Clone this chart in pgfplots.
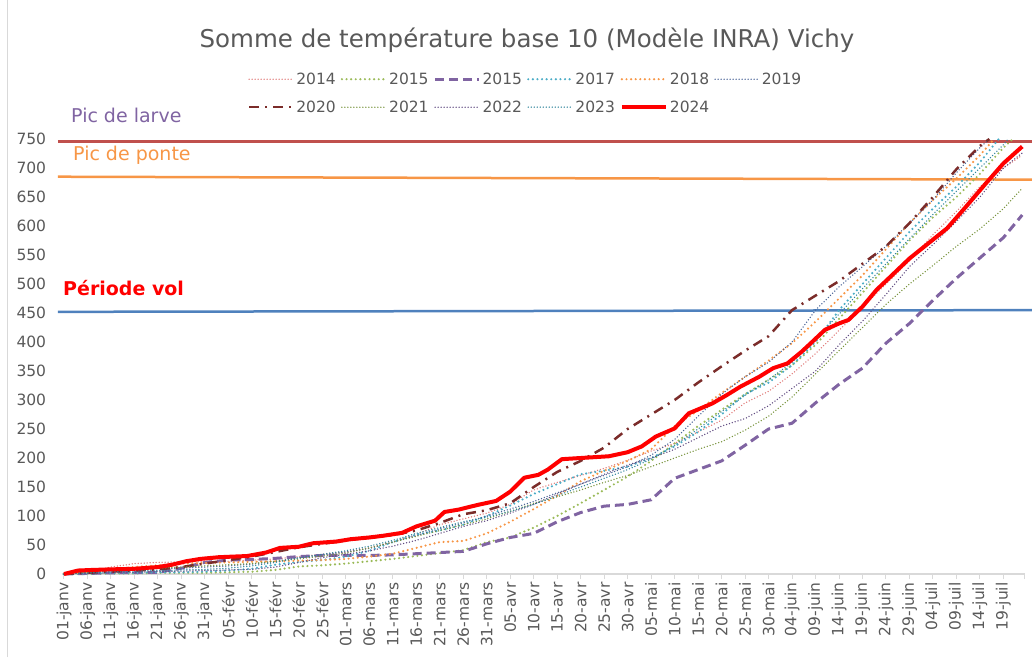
\documentclass[border=0pt]{standalone}
\usepackage{fontspec}
\setmainfont{DejaVu Sans}
\usepackage{pgfplots}
\pgfplotsset{compat=1.18}
\definecolor{txt}{HTML}{595959}
\definecolor{c14}{HTML}{E07A78}
\definecolor{c15}{HTML}{9BBB59}
\definecolor{c16}{HTML}{8064A2}
\definecolor{c17}{HTML}{4BACC6}
\definecolor{c18}{HTML}{F79646}
\definecolor{c19}{HTML}{4A6497}
\definecolor{c20}{HTML}{7B2C2A}
\definecolor{c21}{HTML}{77933C}
\definecolor{c22}{HTML}{5F4A80}
\definecolor{c23}{HTML}{31859C}
\definecolor{hlred}{HTML}{C0504D}
\definecolor{hlor}{HTML}{F79646}
\definecolor{hlbl}{HTML}{4F81BD}
\definecolor{axg}{HTML}{D9D9D9}
\begin{document}
\begin{tikzpicture}[x=1pt,y=1pt]
\useasboundingbox (0,0) rectangle (1032,657);
\draw[axg, line width=1pt] (7,0) -- (7,657);
\node[text=txt, font=\fontsize{24.5}{28}\selectfont] at (527,617) {Somme de température base 10 (Modèle INRA) Vichy};
\begin{axis}[
  at={(61.65pt,83pt)}, anchor=south west,
  scale only axis, width=962.9pt, height=435pt,
  xmin=-0.5, xmax=204.5, ymin=0, ymax=750,
  clip=false,
  axis x line*=bottom, axis y line*=left,
  x axis line style={draw=axg, line width=1.3pt, -},
  y axis line style={draw=none},
  ytick={0,50,...,750},
  ytick style={draw=none},
  xtick style={draw=axg, line width=1pt},
  tick align=outside, major tick length=5pt,
  /pgf/number format/assume math mode=true,
  yticklabel style={font=\fontsize{15.5}{17}\selectfont, text=txt, xshift=-7pt},
  xtick={0,5,...,200},
  extra x ticks={204.5}, extra x tick labels={},
  xticklabels={01-janv,06-janv,11-janv,16-janv,21-janv,26-janv,31-janv,05-févr,10-févr,15-févr,20-févr,25-févr,01-mars,06-mars,11-mars,16-mars,21-mars,26-mars,31-mars,05-avr,10-avr,15-avr,20-avr,25-avr,30-avr,05-mai,10-mai,15-mai,20-mai,25-mai,30-mai,04-juin,09-juin,14-juin,19-juin,24-juin,29-juin,04-juil,09-juil,14-juil,19-juil},
  xticklabel style={rotate=90, anchor=east, font=\fontsize{15.5}{17}\selectfont, text=txt},
  legend columns=6,
  legend cell align=left,
  legend style={at={(0.190,1.162)}, anchor=north west, draw=none, fill=none,
    font=\fontsize{15.5}{17}\selectfont, text=txt, row sep=11pt,
    nodes={inner sep=2pt},
    /tikz/every even column/.append style={column sep=3pt}},
  legend image code/.code={\draw[#1] (0pt,0pt) -- (44pt,0pt);},
]
% reference lines
\addplot[forget plot, hlred, line width=2.5pt] coordinates {(-1.3,746) (206.1,746)};
\addplot[forget plot, hlor, line width=2.5pt] coordinates {(-1.3,685) (206.1,680)};
\addplot[forget plot, hlbl, line width=2.5pt] coordinates {(-1.3,452) (206.1,455)};

\addplot[c14, line width=1.5pt, dash pattern=on 0pt off 3pt, line cap=round] coordinates {
(0,0)(5,4)(10,12)(15,18)(20,20)(25,21)(30,21)(35,22)(40,24)(45,26)(50,30)(55,34)(60,38)(65,45)(70,55)(75,68)(80,85)(85,95)(90,105)(95,120)(100,145)(105,158)(110,170)(115,182)(120,196)(125,212)(130,225)(135,245)(140,265)(145,295)(150,315)(155,345)(160,380)(165,420)(170,460)(175,500)(180,540)(185,585)(190,625)(195,668)(200,700)(204,722)};
\addlegendentry{2014}
\addplot[c15, line width=2.4pt, dash pattern=on 0pt off 4.6pt, line cap=round] coordinates {
(0,0)(5,0)(10,1)(15,1)(20,2)(25,2)(30,2)(35,3)(40,4)(45,7)(50,13)(55,15)(60,18)(65,22)(70,26)(75,31)(80,36)(85,41)(90,55)(95,63)(100,80)(105,100)(110,122)(115,145)(120,168)(125,195)(130,225)(135,255)(140,283)(145,310)(150,335)(155,360)(160,395)(165,440)(170,485)(175,530)(180,575)(185,615)(190,650)(195,690)(200,735)(202,750)};
\addlegendentry{2015}
\addplot[c16, line width=3pt, dash pattern=on 9pt off 5pt] coordinates {
(0,0)(10,2)(20,3)(25,10)(30,20)(35,24)(40,25)(45,27)(50,30)(55,32)(60,32)(65,32)(70,33)(75,35)(80,37)(85,39)(90,52)(95,63)(100,70)(105,90)(110,106)(115,117)(120,120)(125,128)(130,165)(135,180)(140,195)(145,222)(150,250)(155,260)(160,295)(165,327)(170,355)(175,398)(180,432)(185,472)(190,510)(195,545)(200,580)(204,619)};
\addlegendentry{2015}
\addplot[c17, line width=2.4pt, dash pattern=on 0pt off 4.6pt, line cap=round] coordinates {
(0,0)(5,1)(10,2)(15,2)(20,3)(25,3)(30,4)(35,6)(40,9)(45,16)(50,21)(55,24)(60,30)(65,40)(70,55)(75,68)(80,75)(85,85)(90,100)(95,118)(100,138)(105,155)(110,172)(115,178)(120,185)(125,200)(130,220)(135,245)(140,275)(145,310)(150,330)(155,360)(160,400)(165,455)(170,500)(175,545)(180,590)(185,630)(190,668)(195,710)(199,750)};
\addlegendentry{2017}
\addplot[c18, line width=2.4pt, dash pattern=on 0pt off 4.6pt, line cap=round] coordinates {
(0,0)(5,3)(10,8)(15,12)(20,15)(25,18)(30,19)(35,20)(40,21)(45,22)(50,23)(55,24)(60,26)(65,30)(70,35)(75,45)(80,55)(85,57)(90,70)(95,90)(100,112)(105,135)(110,160)(115,178)(120,195)(125,215)(130,255)(135,282)(140,312)(145,340)(150,368)(155,398)(160,435)(165,475)(170,515)(175,560)(180,605)(185,645)(190,682)(195,722)(198,750)};
\addlegendentry{2018}
\addplot[c19, line width=1.5pt, dash pattern=on 0pt off 3pt, line cap=round] coordinates {
(0,0)(5,2)(10,6)(15,8)(20,9)(25,10)(30,12)(35,14)(40,17)(45,22)(50,28)(55,33)(60,38)(65,44)(70,55)(75,66)(80,78)(85,88)(90,100)(95,112)(100,125)(105,140)(110,155)(115,170)(120,185)(125,205)(130,232)(135,272)(140,310)(145,340)(150,365)(155,400)(160,455)(165,495)(170,530)(175,565)(180,605)(185,645)(190,692)(195,735)(197,750)};
\addlegendentry{2019}
\addplot[c20, line width=2.5pt, dash pattern=on 10pt off 6pt on 2pt off 6pt] coordinates {
(0,0)(10,4)(20,8)(25,12)(30,18)(35,24)(40,30)(45,38)(50,46)(55,52)(60,58)(65,63)(70,67)(75,75)(80,88)(85,103)(90,110)(95,122)(100,150)(105,176)(110,195)(115,218)(120,250)(125,275)(130,300)(135,330)(140,358)(145,385)(150,410)(155,455)(160,480)(165,505)(170,535)(175,565)(180,605)(185,650)(190,698)(195,738)(197,750)};
\addlegendentry{2020}
\addplot[c21, line width=1.5pt, dash pattern=on 0pt off 3pt, line cap=round] coordinates {
(0,0)(5,3)(10,6)(15,8)(20,10)(25,12)(30,14)(35,16)(40,18)(45,22)(50,26)(55,31)(60,36)(65,45)(70,55)(75,65)(80,75)(85,85)(90,95)(95,108)(100,122)(105,133)(110,145)(115,158)(120,170)(125,185)(130,200)(135,215)(140,228)(145,248)(150,272)(155,305)(160,345)(165,385)(170,425)(175,465)(180,500)(185,532)(190,565)(195,595)(200,630)(204,665)};
\addlegendentry{2021}
\addplot[c22, line width=1.5pt, dash pattern=on 0pt off 3pt, line cap=round] coordinates {
(0,0)(5,1)(10,2)(15,3)(20,4)(25,5)(30,6)(35,7)(40,8)(45,12)(50,20)(55,28)(60,34)(65,40)(70,48)(75,58)(80,70)(85,82)(90,92)(95,105)(100,120)(105,138)(110,155)(115,172)(120,188)(125,200)(130,215)(135,235)(140,255)(145,268)(150,290)(155,320)(160,350)(165,395)(170,436)(175,482)(180,530)(185,568)(190,608)(195,650)(200,700)(204,726)};
\addlegendentry{2022}
\addplot[c23, line width=1.5pt, dash pattern=on 0pt off 3pt, line cap=round] coordinates {
(0,0)(5,2)(10,4)(15,5)(20,6)(25,7)(30,8)(35,10)(40,14)(45,20)(50,28)(55,34)(60,40)(65,48)(70,58)(75,70)(80,80)(85,90)(90,98)(95,108)(100,120)(105,135)(110,150)(115,165)(120,180)(125,198)(130,222)(135,250)(140,280)(145,308)(150,335)(155,365)(160,405)(165,448)(170,492)(175,535)(180,578)(185,620)(190,660)(195,700)(200,740)(201,750)};
\addlegendentry{2023}
\addplot[red, line width=4pt, line join=round] coordinates {
(0,0)(3,6)(6,7)(10,8)(15,9)(20,12)(23,16)(26,22)(29,26)(33,29)(36,30)(39,31)(43,37)(46,45)(50,47)(53,53)(58,56)(61,60)(65,63)(68,66)(72,71)(75,82)(79,92)(81,107)(84,111)(88,119)(92,126)(95,142)(98,166)(101,171)(103,180)(106,198)(110,200)(116,203)(120,210)(123,220)(126,237)(130,251)(133,277)(138,294)(141,308)(144,323)(148,340)(151,355)(154,363)(157,383)(159,398)(162,421)(165,432)(167,438)(170,461)(173,490)(176,513)(180,544)(184,570)(188,596)(192,633)(196,671)(200,708)(204,737)};
\addlegendentry{2024}
\end{axis}
\node[anchor=west, inner sep=0pt, text=c16, font=\fontsize{19}{22}\selectfont] at (71,542) {Pic de larve};
\node[anchor=west, inner sep=0pt, text=hlor, font=\fontsize{19}{22}\selectfont] at (73,502) {Pic de ponte};
\node[anchor=west, inner sep=0pt, text=red, font=\bfseries\fontsize{19}{22}\selectfont] at (63,369) {Période vol};
\end{tikzpicture}
\end{document}
